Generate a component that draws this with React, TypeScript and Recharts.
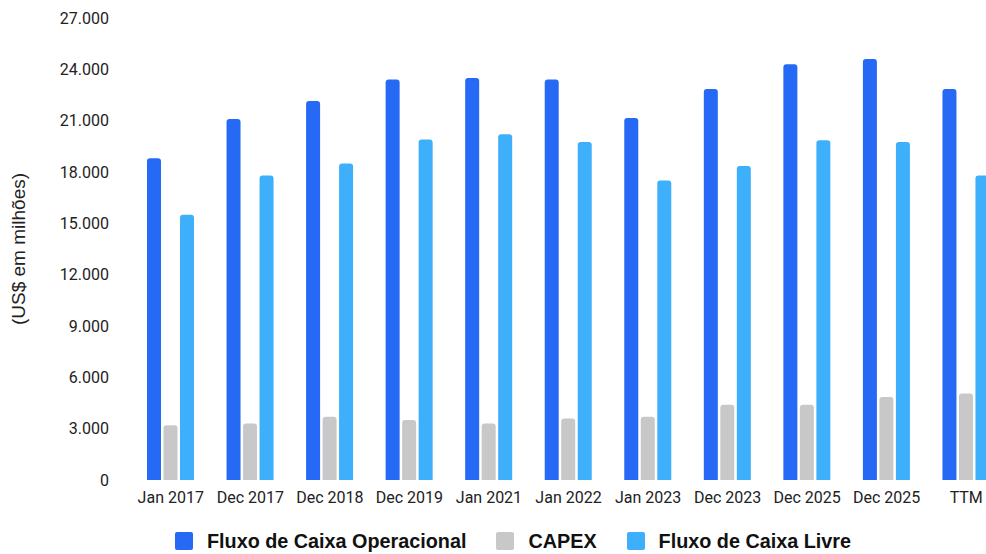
import React from "react";
import { BarChart, Bar, XAxis, YAxis, Legend } from "recharts";

const categories = ["Jan 2017", "Dec 2017", "Dec 2018", "Dec 2019", "Jan 2021", "Jan 2022", "Jan 2023", "Dec 2023", "Dec 2025", "Dec 2025", "TTM"];
const fluxoOperacional = [18800, 21100, 22150, 23400, 23500, 23400, 21150, 22850, 24300, 24600, 22850];
const capex = [3200, 3300, 3700, 3500, 3300, 3600, 3700, 4400, 4400, 4850, 5050];
const fluxoLivre = [15500, 17800, 18500, 19900, 20200, 19750, 17500, 18350, 19850, 19750, 17800];
const yTicks = [0, 3000, 6000, 9000, 12000, 15000, 18000, 21000, 24000, 27000];
const seriesNames = ["Fluxo de Caixa Operacional", "CAPEX", "Fluxo de Caixa Livre"];

const data = categories.map((c, i) => ({
  label: c,
  op: fluxoOperacional[i],
  capex: capex[i],
  livre: fluxoLivre[i],
}));

const COLORS = ["#2569F5", "#C8C8C8", "#3DAFFB"];
const FONT = "Roboto, 'Noto Sans', sans-serif";
const ARIAL = "'Liberation Sans', Arial, sans-serif";

const fmt = (v: number) => v.toLocaleString("de-DE");

const LegendContent = () => (
  <div style={{ display: "flex", paddingLeft: 175, paddingTop: 22, fontFamily: ARIAL }}>
    {seriesNames.map((name, i) => (
      <div key={i} style={{ display: "flex", alignItems: "center", marginRight: 30 }}>
        <div style={{ width: 18, height: 18, background: COLORS[i], borderRadius: 2, marginRight: 14 }} />
        <span style={{ fontWeight: 700, fontSize: 19.8, color: "#111", lineHeight: "18px" }}>{name}</span>
      </div>
    ))}
  </div>
);

export default function App() {
  return (
    <div style={{ position: "absolute", left: 0, top: 0, width: 986, height: 554, overflow: "hidden" }}>
      <BarChart
        width={1010}
        height={554}
        data={data}
        margin={{ top: 18, right: 4, left: 0, bottom: 0 }}
        barSize={14}
        barGap={2.5}
      >
        <XAxis
          dataKey="label"
          axisLine={false}
          tickLine={false}
          tickMargin={6}
          height={30}
          tick={{ fill: "#222", fontSize: 16, fontFamily: FONT }}
          interval={0}
        />
        <YAxis
          width={131}
          domain={[0, 27000]}
          ticks={yTicks}
          tickFormatter={fmt}
          axisLine={false}
          tickLine={false}
          tickSize={0}
          tickMargin={22}
          tick={{ fill: "#222", fontSize: 16, fontFamily: FONT }}
          label={{
            value: "(US$ em milhões)",
            angle: -90,
            position: "insideLeft",
            offset: 18,
            style: { textAnchor: "middle", fontSize: 19, fill: "#222", fontFamily: ARIAL },
          }}
        />
        <Legend verticalAlign="bottom" height={44} content={<LegendContent />} />
        <Bar dataKey="op" name={seriesNames[0]} fill={COLORS[0]} radius={[3, 3, 0, 0]} isAnimationActive={false} />
        <Bar dataKey="capex" name={seriesNames[1]} fill={COLORS[1]} radius={[3, 3, 0, 0]} isAnimationActive={false} />
        <Bar dataKey="livre" name={seriesNames[2]} fill={COLORS[2]} radius={[3, 3, 0, 0]} isAnimationActive={false} />
      </BarChart>
    </div>
  );
}
